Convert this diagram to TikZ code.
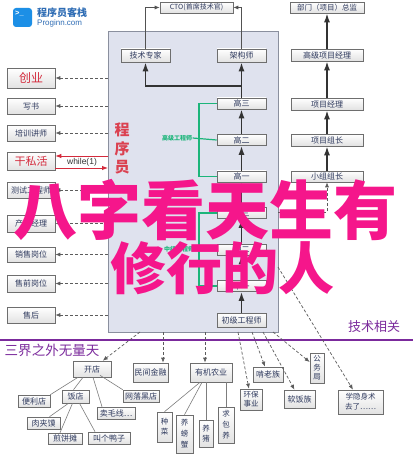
\documentclass[tikz,border=0pt]{standalone}
\usepackage{fontspec}
\newfontfamily\cjk{Noto Sans CJK SC}
\newfontfamily\lsans{Liberation Sans}
\usetikzlibrary{arrows.meta,calc}
\definecolor{progfill}{HTML}{DFE2EE}
\definecolor{progdraw}{HTML}{8A8F9E}
\definecolor{boxtxt}{HTML}{2F3A5E}
\definecolor{boxdraw}{HTML}{6E6E6E}
\definecolor{boxbot}{HTML}{E2E2E2}
\definecolor{redc}{HTML}{D42A3C}
\definecolor{greenc}{HTML}{1CB57A}
\definecolor{purp}{HTML}{7B2A9C}
\definecolor{pinkc}{HTML}{F5168B}
\definecolor{logoblue}{HTML}{1C8FE6}
\definecolor{logotxt}{HTML}{2F6DB5}
\definecolor{arrowc}{HTML}{333333}
\tikzset{
  bx/.style={draw=boxdraw, line width=0.6pt, top color=white, bottom color=boxbot,
    text=boxtxt, font=\cjk\fontsize{8}{9.5}\selectfont, inner sep=0pt, align=center},
  tarrow/.style={draw=arrowc, line width=1.6pt, -{Latex[length=9pt,width=6pt]}},
  darrow/.style={draw=arrowc!80, line width=0.7pt, dash pattern=on 3pt off 2pt,
    -{Latex[length=5pt,width=4pt]}},
  carrow/.style={draw=arrowc!85, line width=0.7pt, -{Latex[length=5pt,width=4pt]}},
  rarrow/.style={draw=redc, line width=0.9pt, -{Latex[length=6pt,width=4.5pt]}},
  gline/.style={draw=greenc, line width=1.2pt},
  tline/.style={draw=boxdraw!90, line width=0.6pt},
  glabel/.style={text=greenc, font=\cjk\bfseries\fontsize{6}{7}\selectfont, inner sep=0.5pt, fill=progfill},
}
\begin{document}
\begin{tikzpicture}[x=1pt,y=-1pt]
\useasboundingbox[fill=white] (0,0) rectangle (415,454);

% logo
\node[fill=logoblue, rounded corners=3pt, minimum width=19, minimum height=19, inner sep=0pt,
  text=white, font=\lsans\bfseries\fontsize{8}{9}\selectfont, anchor=center] (logo) at (22.5,17.5) {};
\node[text=white, font=\lsans\bfseries\fontsize{7.5}{8}\selectfont, inner sep=0pt] (logot) at (19.5,14) {>\_};
\node[anchor=west, text=logotxt, font=\cjk\bfseries\fontsize{10}{12}\selectfont, inner sep=0pt] (lt1) at (37,13) {程序员客栈};
\node[anchor=west, text=logotxt, font=\lsans\fontsize{8}{9}\selectfont, inner sep=0pt] (lt2) at (37,23.5) {Proginn.com};

% program box
\node[draw=progdraw, fill=progfill, line width=0.8pt, minimum width=170, minimum height=301, inner sep=0pt] (prog) at (193,181.5) {};

% top boxes
\node[bx, minimum width=73, minimum height=11, font=\cjk\fontsize{7}{8}\selectfont] (cto) at (196.5,7.5) {CTO(首席技术官)};
\node[bx, minimum width=74, minimum height=11, font=\cjk\fontsize{7.5}{8}\selectfont] (zj) at (327,7.5) {部门（项目）总监};

% inside program box
\node[bx, minimum width=49, minimum height=13] (jszj) at (145.5,55.5) {技术专家};
\node[bx, minimum width=49, minimum height=13] (jgs) at (241.5,55.5) {架构师};
\node[bx, minimum width=49, minimum height=11] (g3) at (241.5,103.5) {高三};
\node[bx, minimum width=49, minimum height=11] (g2) at (241.5,140) {高二};
\node[bx, minimum width=49, minimum height=11] (g1) at (241.5,176.5) {高一};
\node[bx, minimum width=49, minimum height=11] (z3) at (241.5,213) {中三};
\node[bx, minimum width=49, minimum height=11] (z2) at (241.5,249.5) {中二};
\node[bx, minimum width=49, minimum height=11] (z1) at (241.5,286) {中一};
\node[bx, minimum width=49, minimum height=14] (cj) at (241.5,320) {初级工程师};

\node[text=redc!85!pink, font=\cjk\bfseries\fontsize{15}{18.5}\selectfont, align=center, inner sep=0pt] (cxy) at (122,148.5) {程\\序\\员};

% green brackets
\coordinate (gv) at (199,0);
\node[glabel] (gjl) at (177,138) {高级工程师};
\node[glabel] (zjl) at (179,249) {中级工程师};
\draw[gline] (g3.west) -- (g3.west -| gv) -- (g1.west -| gv) -- (g1.west);
\draw[gline] (gjl.east) -- (g2.west);
\draw[gline] (z3.west) -- (z3.west -| gv) -- (z1.west -| gv) -- (z1.west);
\draw[gline] (zjl.east) -- (z2.west);

% thick arrows program
\coordinate (br) at (241.5,86);
\draw[tarrow] (g3.north) -- (jgs.south);
\draw[tarrow] (br) -| (jszj.south);
\draw[tarrow] (g2.north) -- (g3.south);
\draw[tarrow] (g1.north) -- (g2.south);
\draw[tarrow] (z3.north) -- (g1.south);
\draw[tarrow] (z2.north) -- (z3.south);
\draw[tarrow] (z1.north) -- (z2.south);
\draw[tarrow] (cj.north) -- (z1.south);

% CTO arrows
\draw[carrow] (jszj.north) |- (cto.west);
\draw[carrow] (jgs.north) |- (cto.east);

% right column
\node[bx, minimum width=72, minimum height=12] (gxjl) at (327,55) {高级项目经理};
\node[bx, minimum width=72, minimum height=12] (xmjl) at (327,104) {项目经理};
\node[bx, minimum width=72, minimum height=12] (xmzz) at (327,140) {项目组长};
\node[bx, minimum width=72, minimum height=11] (xzzz) at (327,176.5) {小组组长};
\draw[tarrow] (gxjl.north) -- (zj.south);
\draw[tarrow] (xmjl.north) -- (gxjl.south);
\draw[tarrow] (xmzz.north) -- (xmjl.south);
\draw[tarrow] (xzzz.north) -- (xmzz.south);
\coordinate (q) at (278,212);
\draw[darrow] (q) -| (xzzz.south);

% left column
\node[bx, minimum width=48, minimum height=20, text=redc, font=\cjk\fontsize{12}{13}\selectfont] (cy) at (31,78) {创业};
\node[bx, minimum width=48, minimum height=16] (xs) at (31,106) {写书};
\node[bx, minimum width=48, minimum height=16] (pxjs) at (31,133) {培训讲师};
\node[bx, minimum width=48, minimum height=18, text=redc, font=\cjk\fontsize{11}{12}\selectfont] (gsh) at (31,161) {干私活};
\node[bx, minimum width=48, minimum height=16] (csgcs) at (31,190) {测试工程师};
\node[bx, minimum width=48, minimum height=17] (cpjl) at (31,223.5) {产品经理};
\node[bx, minimum width=48, minimum height=15] (xsgw) at (31,254.5) {销售岗位};
\node[bx, minimum width=48, minimum height=17] (sqgw) at (31,283.5) {售前岗位};
\node[bx, minimum width=48, minimum height=16] (sh) at (31,315) {售后};
\foreach \n in {cy,xs,pxjs,csgcs,cpjl,xsgw,sqgw,sh}
  \draw[darrow] (prog.west |- \n.east) -- (\n.east);
\coordinate (r1) at (108,156);
\coordinate (r2) at (108,168);
\draw[rarrow] (r1) -- (r1 -| gsh.east);
\draw[rarrow] (r2 -| gsh.east) -- (r2);
\node[text=arrowc, font=\lsans\fontsize{8.5}{10}\selectfont, inner sep=0pt] (wh) at (82,162) {while(1)};

% purple divider
\coordinate (pl) at (0,340);
\coordinate (pr) at (413,340);
\draw[purp, line width=2.4pt] (pl) -- (pr);
\node[text=purp, font=\cjk\fontsize{13}{14}\selectfont, inner sep=0pt] (jsxg) at (374,327) {技术相关};
\node[text=purp, font=\cjk\fontsize{13.5}{14}\selectfont, inner sep=0pt] (sjzw) at (52,350) {三界之外无量天};

% bottom nodes
\node[bx, minimum width=38, minimum height=16] (kd) at (92,369) {开店};
\node[bx, minimum width=35, minimum height=19] (mj) at (150.5,372.5) {民间金融};
\node[bx, minimum width=42, minimum height=19] (yj) at (211,372.5) {有机农业};
\node[bx, minimum width=22, minimum height=21, font=\cjk\fontsize{7.5}{9}\selectfont] (hb) at (251,399.5) {环保\\事业};
\node[bx, minimum width=30, minimum height=15] (kl) at (268,374.5) {啃老族};
\node[bx, minimum width=31, minimum height=18] (rf) at (299.5,399) {软饭族};
\node[bx, minimum width=14, minimum height=30, font=\cjk\fontsize{7.5}{9}\selectfont] (gw) at (317,368) {公\\务\\局};
\node[bx, minimum width=45, minimum height=24, font=\cjk\fontsize{7.5}{10}\selectfont] (xy) at (360.5,402) {学隐身术\\去了……};

\coordinate (p1) at (140,332);
\coordinate (p2) at (163,332);
\coordinate (p3) at (205,332);
\coordinate (p4) at (238,332);
\coordinate (p5) at (252,332);
\coordinate (p6) at (263,332);
\coordinate (p7) at (273,332);
\coordinate (p8) at (278,267);
\draw[darrow] (p1) -- (kd);
\draw[darrow] (p2) -- (p2 |- mj.north);
\draw[darrow] (p3) -- (p3 |- yj.north);
\draw[darrow] (p4) -- (hb);
\draw[darrow] (p5) -- (kl);
\draw[darrow] (p6) -- (rf);
\draw[darrow] (p7) -- (gw);
\draw[darrow] (p8) -- (xy);

\node[bx, minimum width=32, minimum height=12] (bld) at (34,401) {便利店};
\node[bx, minimum width=27, minimum height=13] (fd) at (75.5,396.5) {饭店};
\node[bx, minimum width=36, minimum height=12] (wl) at (141,396) {网落黑店};
\node[bx, minimum width=38, minimum height=12] (mmx) at (116,413) {卖毛线…};
\node[bx, minimum width=33, minimum height=12] (rjm) at (43.5,423) {肉夹馍};
\node[bx, minimum width=34, minimum height=11] (jbt) at (65,438.5) {煎饼摊};
\node[bx, minimum width=42, minimum height=12] (jgyz) at (109,438) {叫个鸭子};
\node[bx, minimum width=15, minimum height=30, font=\cjk\fontsize{7.5}{10}\selectfont] (zc) at (164.5,427) {种\\菜};
\node[bx, minimum width=17, minimum height=38, font=\cjk\fontsize{7.5}{11}\selectfont] (ppx) at (184.5,434) {养\\螃\\蟹};
\node[bx, minimum width=14, minimum height=27, font=\cjk\fontsize{7.5}{10}\selectfont] (yz) at (206,433.5) {养\\猪};
\node[bx, minimum width=16, minimum height=36, font=\cjk\fontsize{7.5}{11}\selectfont] (qby) at (226,425) {求\\包\\养};

\draw[tline] ($(kd.south)+(-14,0)$) -- (bld.north east);
\draw[tline] ($(kd.south)+(-9,0)$) -- ($(fd.north)+(-2,0)$);
\draw[tline] ($(kd.south)+(1,0)$) -- ($(mmx.north)+(-14,0)$);
\draw[tline] ($(kd.south)+(8,-2)$) -- (wl.north west);
\draw[tline] ($(fd.south)+(-7,0)$) -- ($(rjm.north)+(6,0)$);
\draw[tline] ($(fd.south)+(-3,0)$) -- ($(jbt.north)+(-5,0)$);
\draw[tline] ($(fd.south)+(4,0)$) -- ($(jgyz.north)+(-14,0)$);
\draw[tline] ($(yj.south)+(-11,0)$) -- (zc.north);
\draw[tline] ($(yj.south)+(-9,0)$) -- (ppx.north);
\draw[tline] (yz.north |- yj.south) -- (yz.north);
\draw[tline] (qby.north |- yj.south) -- (qby.north);

% big pink overlay text
\node[text=pinkc, font=\cjk\bfseries\fontsize{64}{66}\selectfont, inner sep=0pt] (ov1) at (205,210) {八字看天生有};
\node[text=pinkc, font=\cjk\bfseries\fontsize{56}{58}\selectfont, inner sep=0pt] (ov2) at (222,268) {修行的人};
\end{tikzpicture}
\end{document}
